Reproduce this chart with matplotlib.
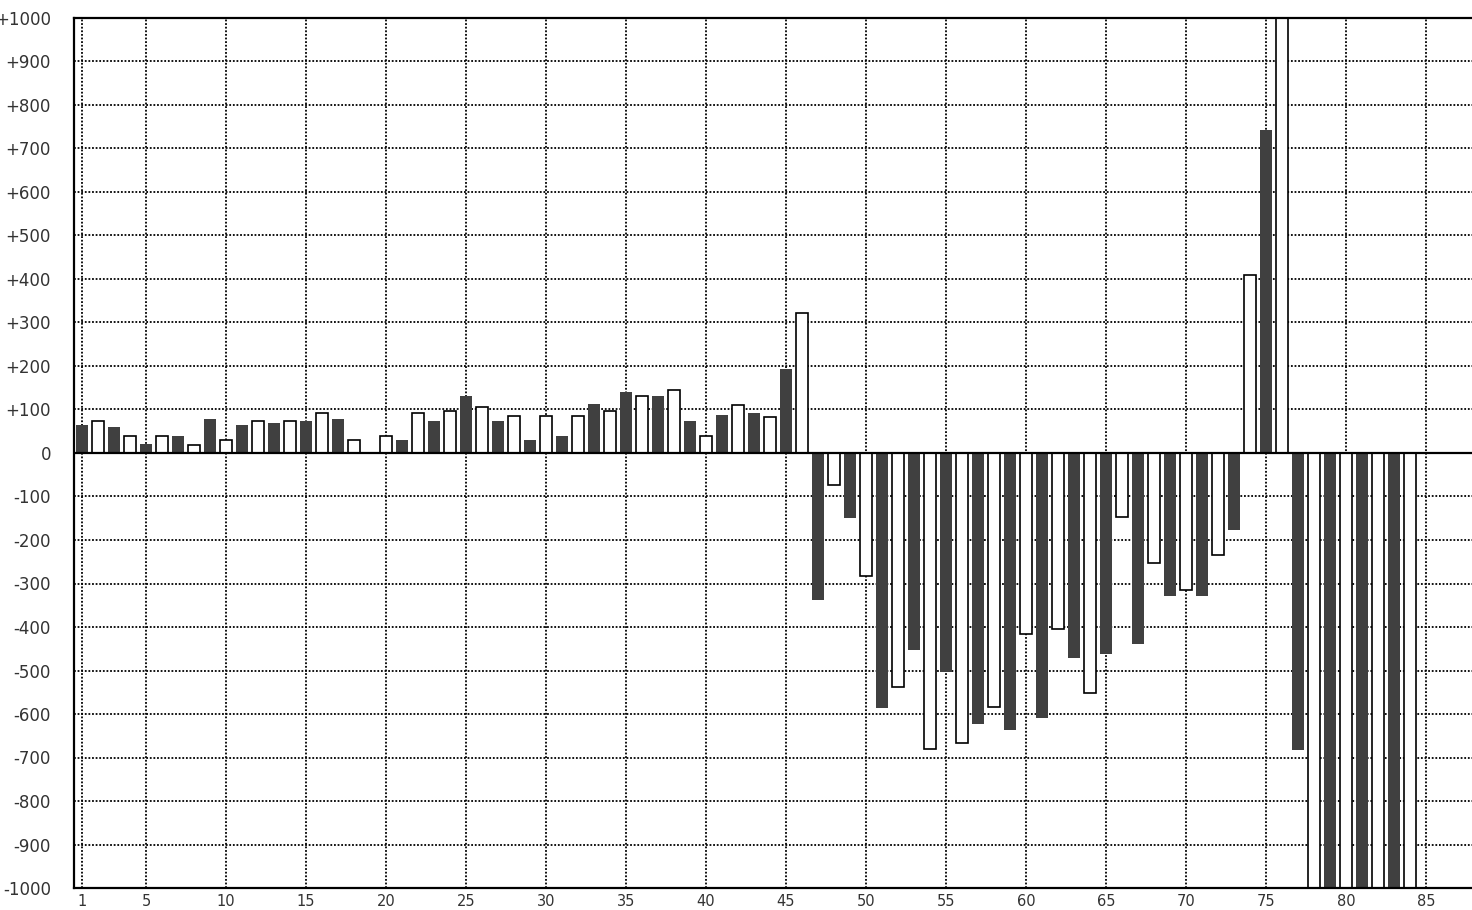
import numpy as np
import matplotlib
matplotlib.use("Agg")
import matplotlib.pyplot as plt

# bar positions 1..84
positions = list(range(1, 85))
values = [
    64, 73, 59, 38, 21, 38, 40, 19, 78, 29,
    64, 73, 69, 73, 74, 92, 78, 29, 0, 38,
    30, 92, 74, 97, 131, 106, 74, 86, 30, 86,
    40, 86, 112, 97, 141, 130, 131, 144, 74, 38,
    88, 110, 93, 82, 194, 322, -338, -74, -149, -282,
    -586, -539, -453, -681, -503, -667, -623, -585, -637, -415,
    -609, -405, -471, -552, -462, -148, -439, -254, -329, -314,
    -329, -235, -177, 409, 742, 1200, -683, -1200, -1200, -1200,
    -1200, -1200, -1200, -1200,
]
x_ticks = [1, 5, 10, 15, 20, 25, 30, 35, 40, 45, 50, 55, 60, 65, 70, 75, 80, 85]
y_ticks = list(range(-1000, 1001, 100))
y_labels = [("+%d" % v if v > 0 else "%d" % v) for v in y_ticks]

fig = plt.figure(figsize=(14.72, 9.10), dpi=100)
ax = fig.add_axes([74 / 1472, 22 / 910, 1 - 74 / 1472, 870 / 910])

pos = np.array(positions)
vals = np.array(values)
dark = pos % 2 == 1

# odd positions: solid dark bars, even: white with black outline
ax.bar(pos[dark], vals[dark], width=0.75, color="#404040", linewidth=0, zorder=2)
ax.bar(pos[~dark], vals[~dark], width=0.75, facecolor="white",
       edgecolor="black", linewidth=1.2, zorder=2)

ax.axhline(0, color="black", linewidth=1.6, zorder=3)

ax.set_xlim(0.5, 87.875)
ax.set_ylim(-1000, 1000)
ax.set_xticks(x_ticks)
ax.set_yticks(y_ticks)
ax.set_yticklabels(y_labels)

ax.set_axisbelow(True)
ax.grid(True, color="black", linestyle=(0, (1, 1)), linewidth=1.3)

for side in ["left", "top", "bottom"]:
    ax.spines[side].set_linewidth(1.6)
    ax.spines[side].set_color("black")
ax.spines["right"].set_visible(False)

ax.tick_params(axis="both", length=0, colors="#333333")
ax.tick_params(axis="y", pad=16.5, labelsize=12)
ax.tick_params(axis="x", pad=4, labelsize=10.5)

fig.savefig("out.png", dpi=100)
